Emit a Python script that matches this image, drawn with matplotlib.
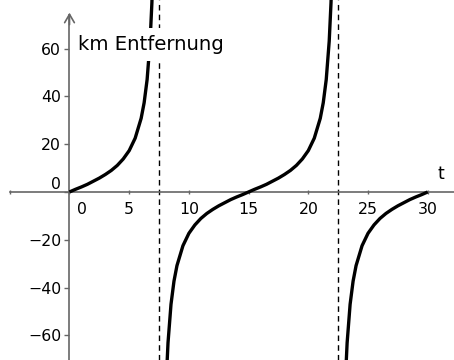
import matplotlib
matplotlib.use("Agg")
import matplotlib.pyplot as plt
import matplotlib.transforms as mtransforms

# ---- data ----
t1 = [0, 0.5, 1, 1.5, 2, 2.5, 3, 3.5, 4, 4.5, 5, 5.5, 6, 6.25, 6.5, 6.75, 6.9, 7.0]
y1 = [0, 1.1, 2.1, 3.2, 4.5, 5.8, 7.3, 9.0, 11.1, 13.8, 17.3, 22.5, 30.8, 37.3, 47.0, 63.1, 79.1, 95.1]

t2 = [8.0, 8.1, 8.25, 8.5, 8.75, 9, 9.5, 10, 10.5, 11, 11.5, 12, 12.5, 13, 13.5, 14, 14.5,
      15, 15.5, 16, 16.5, 17, 17.5, 18, 18.5, 19, 19.5, 20, 20.5, 21, 21.25, 21.5, 21.75, 21.9, 22.0]
y2 = [-95.1, -79.1, -63.1, -47.0, -37.3, -30.8, -22.5, -17.3, -13.8, -11.1, -9.0, -7.3, -5.8, -4.5,
      -3.2, -2.1, -1.1, 0, 1.1, 2.1, 3.2, 4.5, 5.8, 7.3, 9.0, 11.1, 13.8, 17.3, 22.5, 30.8, 37.3,
      47.0, 63.1, 79.1, 95.1]

t3 = [23.0, 23.1, 23.25, 23.5, 23.75, 24, 24.5, 25, 25.5, 26, 26.5, 27, 27.5, 28, 28.5, 29, 29.5, 30]
y3 = [-95.1, -79.1, -63.1, -47.0, -37.3, -30.8, -22.5, -17.3, -13.8, -11.1, -9.0, -7.3, -5.8,
      -4.5, -3.2, -2.1, -1.1, 0]

asymptotes = [7.5, 22.5]

xticks = [-5, 0, 5, 10, 15, 20, 25, 30]
xticklabels = ["", "0", "5", "10", "15", "20", "25", "30"]
yticks = [-60, -40, -20, 0, 20, 40, 60]
yticklabels = ["\u221260", "\u221240", "\u221220", "0", "20", "40", "60"]

y_label = "km Entfernung"
x_label = "t"

# ---- figure ----
fig = plt.figure(figsize=(4.54, 3.6), dpi=100)
ax = fig.add_axes([0, 0, 1, 1])
ax.set_xlim(-5.82, 32.2)
ax.set_ylim(-70.3, 80.3)
ax.patch.set_alpha(0)

axis_col = "#666666"
for s in ["top", "right"]:
    ax.spines[s].set_visible(False)
ax.spines["left"].set_position(("data", 0))
ax.spines["bottom"].set_position(("data", 0))
ax.spines["left"].set_bounds(-70.3, 74.0)
ax.spines["bottom"].set_bounds(-5, 32.2)
for s in ["left", "bottom"]:
    ax.spines[s].set_color(axis_col)
    ax.spines[s].set_linewidth(1.2)

# arrow on y axis
ax.annotate("", xy=(0, 75.0), xytext=(0, 70.0),
            arrowprops=dict(arrowstyle="->,head_length=0.6,head_width=0.35",
                            color=axis_col, lw=1.2, shrinkA=0, shrinkB=0))

ax.set_xticks(xticks)
ax.set_xticklabels(xticklabels)
ax.set_yticks(yticks)
ax.set_yticklabels(yticklabels)
ax.tick_params(axis="x", direction="inout", length=3, width=1, color=axis_col,
               labelsize=11.3, pad=6)
ax.tick_params(axis="y", direction="out", length=3.5, width=1, color=axis_col,
               labelsize=11.3, pad=2.5)

# shift the "0" labels away from the axes
for lab in ax.get_xticklabels():
    if lab.get_text() == "0":
        lab.set_transform(lab.get_transform() +
                          mtransforms.ScaledTranslation(12.5 / 100, 0, fig.dpi_scale_trans))
for lab in ax.get_yticklabels():
    if lab.get_text() == "0":
        lab.set_transform(lab.get_transform() +
                          mtransforms.ScaledTranslation(0, 9 / 100, fig.dpi_scale_trans))

# asymptotes
for a in asymptotes:
    ax.axvline(a, color="black", lw=1.0, ls=(0, (4, 3)), zorder=2)

# curve
for tt, yy in [(t1, y1), (t2, y2), (t3, y3)]:
    ax.plot(tt, yy, color="black", lw=2.4, zorder=3, solid_capstyle="butt")

# labels
ax.text(0.75, 59.3, y_label, fontsize=14.2, ha="left", va="baseline", zorder=4,
        bbox=dict(boxstyle="square,pad=0.35", fc="white", ec="none"))
ax.text(31.1, 7.5, x_label, fontsize=12.5, ha="center", va="center")

fig.savefig("out.png", dpi=100)
